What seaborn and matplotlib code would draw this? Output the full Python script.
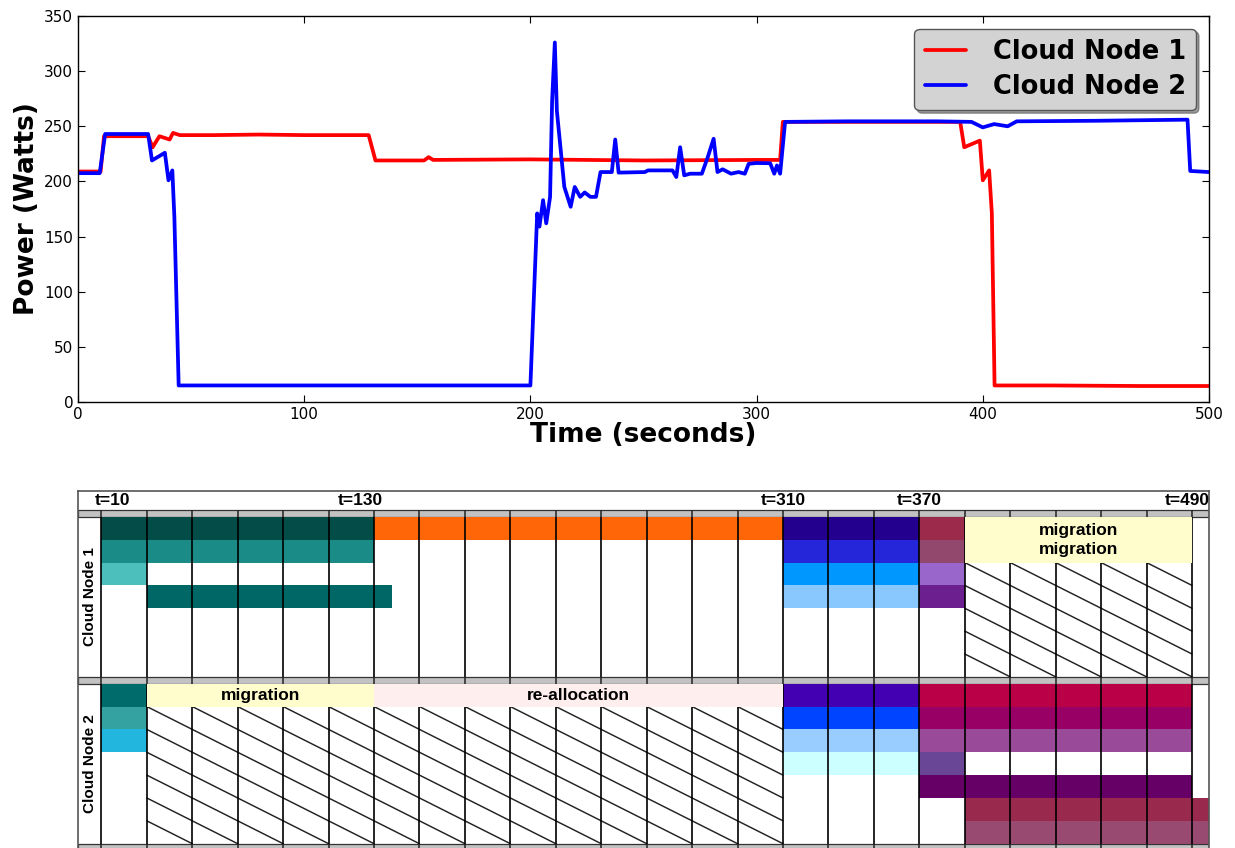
import matplotlib
matplotlib.use("Agg")
import matplotlib.pyplot as plt
import pandas as pd
import seaborn as sns

# ---- power traces (breakpoints): seconds / watts ----
node1_time = [0, 10, 11.5, 20, 31, 33, 36, 40.5, 42, 45, 60, 80, 100, 128.5,
              131.5, 140, 153, 155, 157, 200, 250, 300, 310.4, 311.6, 340, 370,
              390, 391.8, 398.7, 400, 402.8, 404, 405.2, 430, 470, 500]
node1_power = [209, 209, 241, 241, 241, 231, 241, 238, 244, 242, 242, 242.5, 242, 242,
               219, 219, 219, 222, 219.5, 220, 219, 219.5, 219.5, 254, 254, 254,
               254, 231, 237, 201, 210, 171, 15, 15, 14.5, 14.5]

node2_time = [0, 9.6, 12, 20, 31, 32.7, 38.4, 40, 41.7, 42.6, 44.5, 60, 100, 150,
              200, 203, 204, 205.6, 207, 208.7, 209.6, 210.8, 211.7, 215, 217.8,
              219.6, 222, 224, 226.5, 229, 231, 236, 237.5, 239, 250.6, 252, 262.8,
              264.5, 266.2, 268, 270.6, 275.8, 278.4, 281, 282.7, 285, 288.7, 292,
              294.8, 296.5, 300, 306, 307.8, 309, 310.4, 312.6, 340, 380, 395, 400,
              405, 411, 415, 450, 490.5, 491.7, 500]
node2_power = [207.5, 207.5, 243, 243, 243, 219, 226, 201, 210, 168, 15, 15, 15, 15,
               15, 171, 159, 183, 162, 186, 273, 326, 264, 195, 177,
               195, 186, 190, 186, 186, 208.5, 208.5, 238, 208, 208.5, 210, 210,
               204, 231, 205.5, 207, 207, 222, 238.7, 208.5, 211, 207, 208.5,
               207, 216, 216.7, 216.5, 207, 214.5, 207, 254, 254.5, 254.5, 254, 249,
               252, 250, 254.5, 255, 256, 209.5, 208.5]

node_names = ["Cloud Node 1", "Cloud Node 2"]

# ---- VM schedule (node, slot, start, end) and cell colours ----
vm_node = [1, 1, 1, 1, 1, 1, 1, 1, 1, 1, 1, 1, 1,
           2, 2, 2, 2, 2, 2, 2, 2, 2, 2, 2, 2, 2, 2]
vm_slot = [0, 1, 2, 3, 0, 0, 1, 2, 3, 0, 1, 2, 3,
           0, 1, 2, 0, 1, 2, 3, 0, 1, 2, 3, 4, 5, 6]
vm_start = [10, 10, 10, 30, 130, 310, 310, 310, 310, 370, 370, 370, 370,
            10, 10, 10, 310, 310, 310, 310, 370, 370, 370, 370, 370, 390, 390]
vm_end = [130, 130, 30, 138, 310, 370, 370, 370, 370, 390, 390, 390, 390,
          30, 30, 30, 370, 370, 370, 370, 490, 490, 490, 390, 490, 500, 500]
vm_colors = ['#044c48', '#1b8b88', '#4cbebb', '#006767', '#ff6608',
             '#24008f', '#2525da', '#0098ff', '#88c8ff',
             '#9c2b4b', '#92486c', '#9966cc', '#6c2090',
             '#006b6b', '#33a2a0', '#22b6de',
             '#4200b2', '#0044ff', '#99ccff', '#ccffff',
             '#ba0047', '#990066', '#994a99', '#6a4796', '#660066',
             '#992a4e', '#984a70']

# activity boxes (node, first slot, last slot, start, end, label)
act_node = [1, 2, 2]
act_first = [0, 0, 0]
act_last = [1, 0, 0]
act_start = [390, 30, 130]
act_end = [490, 130, 310]
act_label = ["migration\nmigration", "migration", "re-allocation"]
act_colors = ['#fffdcc', '#fffdcc', '#ffeeee']

# idle (hatched) regions (node, first slot, last slot, start, end)
idle_node = [1, 2]
idle_first = [2, 1]
idle_last = [6, 6]
idle_start = [390, 30]
idle_end = [490, 310]

marks = [10, 130, 310, 370, 490]
mark_labels = ["t=10", "t=130", "t=310", "t=370", "t=490"]

# ---- style ----
sns.set_style("ticks")
plt.rcParams.update({
    'xtick.direction': 'in', 'ytick.direction': 'in',
    'xtick.top': True, 'ytick.right': True,
    'xtick.major.size': 5, 'ytick.major.size': 5,
    'axes.edgecolor': 'black', 'axes.linewidth': 1.0,
    'text.color': 'black', 'axes.labelcolor': 'black',
    'xtick.color': 'black', 'ytick.color': 'black',
})

fig = plt.figure(figsize=(12.35, 8.48), dpi=100)

# ---- top: power traces ----
ax = fig.add_axes([78 / 1235, 1 - 402 / 848, (1209 - 78) / 1235, 386 / 848])
df = pd.concat([
    pd.DataFrame({'time': node1_time, 'power': node1_power, 'node': node_names[0]}),
    pd.DataFrame({'time': node2_time, 'power': node2_power, 'node': node_names[1]}),
])
sns.lineplot(data=df, x='time', y='power', hue='node', hue_order=node_names,
             palette=['#ff0000', '#0000ff'], linewidth=2.7, ax=ax, estimator=None)
ax.set_xlim(0, 500)
ax.set_ylim(0, 350)
ax.set_xticks(range(0, 501, 100))
ax.set_yticks(range(0, 351, 50))
ax.tick_params(labelsize=11)
ax.set_xlabel('Time (seconds)', fontsize=19, fontweight='bold', labelpad=0)
ax.set_ylabel('Power (Watts)', fontsize=19, fontweight='bold', labelpad=3)
leg = ax.legend(loc='upper right', fancybox=True, shadow=True, framealpha=1,
                facecolor='#d3d3d3', edgecolor='#555555',
                prop={'weight': 'bold', 'size': 18.5}, handlelength=1.6,
                handletextpad=1.05, labelspacing=0.35, borderaxespad=0.5)
for h in leg.get_lines():
    h.set_linewidth(2.7)

# ---- bottom: placement diagram ----
bx = fig.add_axes([77.5 / 1235, 1 - 851 / 848, (1209 - 77.5) / 1235, 360 / 848])
header_h = 0.83
band_h = 0.3
n_slots = 7
sec_top = {1: header_h + band_h, 2: header_h + 2 * band_h + n_slots}
bands = [header_h, sec_top[1] + n_slots, sec_top[2] + n_slots]
bounds = list(range(10, 491, 20))

bx.set_xlim(-0.5, 497.5)
bx.set_ylim(bands[2] + band_h + 0.02, 0)
bx.set_xticks([])
bx.set_yticks([])
for s in bx.spines.values():
    s.set_color('#555555')
    s.set_linewidth(1.2)

font = dict(family='Liberation Sans', fontweight='bold')

for b in bands:
    bx.axhspan(b, b + band_h, facecolor='#c2c2c2', edgecolor='#333333', lw=0.9, zorder=1)
    bx.vlines(bounds, b, b + band_h, colors='#222222', lw=1.1, zorder=3)

for node in (1, 2):
    top = sec_top[node]
    bx.vlines(bounds, top, top + n_slots, colors='black', lw=1.2, zorder=3)
    bx.text(5, top + n_slots / 2, node_names[node - 1], rotation=90, ha='center',
            va='center', fontsize=11, **font)

# VM cells
for n, s, a, e, c in zip(vm_node, vm_slot, vm_start, vm_end, vm_colors):
    bx.barh(sec_top[n] + s + 0.5, e - a, left=a, height=1, color=c, lw=0, zorder=2)

# idle slots: one diagonal per cell
for n, f, l, a, e in zip(idle_node, idle_first, idle_last, idle_start, idle_end):
    for t0 in range(a, e, 20):
        for s in range(f, l + 1):
            y0 = sec_top[n] + s
            bx.plot([t0, t0 + 20], [y0, y0 + 1], color='#222222', lw=1.05, zorder=2)

# activity boxes
for n, f, l, a, e, lab, c in zip(act_node, act_first, act_last, act_start,
                                 act_end, act_label, act_colors):
    y0 = sec_top[n] + f
    h = l - f + 1
    bx.barh(y0 + h / 2, e - a, left=a, height=h, color=c, lw=0, zorder=4)
    bx.text((a + e) / 2, y0 + h / 2, lab, ha='center', va='center', fontsize=12.5,
            linespacing=1.35, zorder=5, **font)

# time marks in header
nudge = [5, -6, 0, 0, -2]
for m, lab, dx in zip(marks, mark_labels, nudge):
    bx.text(m + dx, header_h / 2 + 0.02, lab, ha='center', va='center',
            fontsize=12.5, **font)

fig.savefig('out.png', dpi=100)
